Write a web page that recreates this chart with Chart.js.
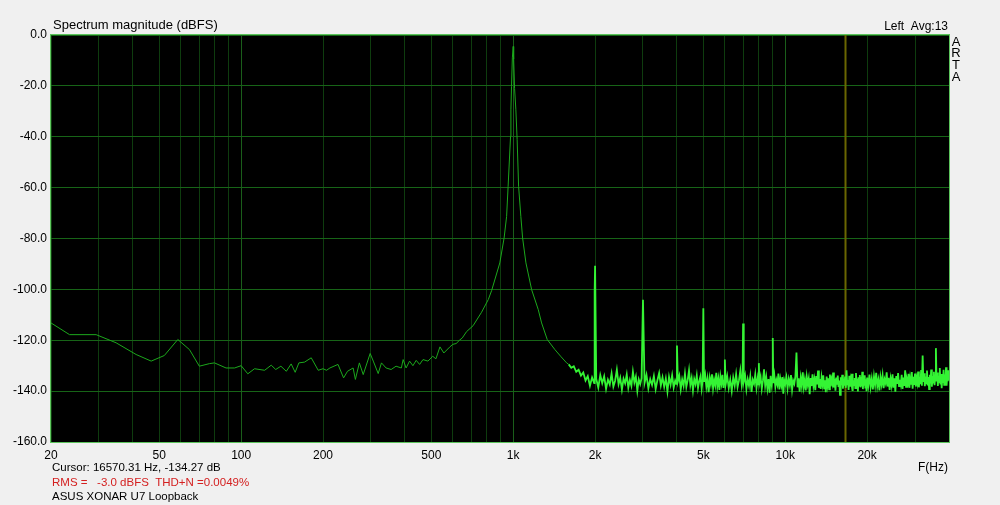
<!DOCTYPE html>
<html lang="en">
<head>
    <meta charset="UTF-8">
    <title>Spectrum magnitude</title>
    <script src="https://cdn.jsdelivr.net/npm/chart.js"></script>
    <style>
        body {
            margin: 0;
            background: #f0f0f0;
        }
        canvas {
            display: block;
        }
    </style>
</head>
<body>

    <canvas id="spectrum" width="1000" height="505"></canvas>

    <script>
        // Low part of the spectrum: hum, 1/f floor and the 1 kHz tone skirt
        const lowFreq = [20, 23.4, 29.3, 34.7, 41.1, 46.7, 52.2, 58.5, 64.6, 70.2,
            76.4, 79.8, 88, 94.6, 100, 105.8, 112, 122, 129, 134,
            140, 146.6, 152.7, 158, 163, 171, 181, 192, 200, 206,
            212, 227, 238, 246, 258, 263, 272, 281, 298, 306,
            319, 328, 341, 356, 371, 388, 394, 404, 416, 428,
            440, 453, 466, 486, 506, 520, 538, 556, 584, 600,
            617, 636, 650, 674, 712, 765, 810, 833, 893, 926,
            946, 958, 978, 981, 986, 993, 1000, 1004, 1012, 1023,
            1034, 1047, 1067, 1083, 1114, 1169, 1236, 1272, 1334, 1424,
            1500, 1572, 1600];
        const lowDb = [-113.2, -117.8, -117.8, -121.0, -125.6, -128.2, -126.0, -119.7, -123.7, -130.2,
            -129.2, -128.9, -130.9, -130.9, -130.0, -133.2, -131.2, -131.8, -129.8, -131.5,
            -130.2, -132.2, -129.3, -132.6, -128.9, -128.6, -126.9, -131.8, -131.2, -131.8,
            -130.9, -129.5, -134.8, -132.2, -130.9, -135.4, -128.9, -133.5, -125.2, -128.2,
            -133.1, -128.9, -130.9, -131.5, -130.2, -130.9, -127.6, -130.9, -128.2, -130.0,
            -127.9, -129.5, -127.6, -128.2, -126.3, -127.3, -122.6, -125.0, -122.7, -121.6,
            -121.3, -119.9, -119.1, -116.6, -114.3, -109.0, -104.0, -100.5, -89.6, -79.8,
            -71.3, -59.5, -39.8, -29.4, -20.2, -9.0, -4.5, -9.5, -21.0, -29.4,
            -41.1, -59.5, -71.3, -79.8, -89.6, -100.1, -107.9, -113.2, -119.7, -123.7,
            -126.5, -128.9, -129.5];

        // Noise floor with harmonics (2k, 3k, 4k ... 11k, 32k, 35.8k)
        const noiseFreq = [1600, 1635, 1670, 1705, 1740, 1775, 1810, 1845, 1880, 1915,
            1950, 1985, 1993, 2000, 2020, 2055, 2090, 2125, 2160, 2195,
            2230, 2265, 2300, 2335, 2370, 2405, 2440, 2475, 2510, 2545,
            2580, 2615, 2650, 2685, 2720, 2755, 2790, 2825, 2860, 2895,
            2930, 2965, 3000, 3040, 3090, 3140, 3190, 3240, 3290, 3340,
            3390, 3440, 3490, 3540, 3590, 3640, 3690, 3740, 3790, 3840,
            3890, 3940, 3975, 4000, 4030, 4080, 4130, 4180, 4230, 4280,
            4330, 4380, 4430, 4480, 4530, 4580, 4630, 4680, 4730, 4780,
            4830, 4880, 4930, 4970, 5000, 5030, 5080, 5130, 5180, 5230,
            5280, 5330, 5380, 5430, 5480, 5530, 5580, 5630, 5680, 5730,
            5780, 5830, 5880, 5930, 5970, 6000, 6040, 6120, 6200, 6280,
            6360, 6440, 6520, 6600, 6680, 6760, 6840, 6920, 6970, 7000,
            7040, 7120, 7200, 7280, 7360, 7440, 7520, 7600, 7680, 7760,
            7840, 7920, 7970, 8000, 8040, 8120, 8200, 8280, 8360, 8440,
            8520, 8600, 8680, 8760, 8840, 8920, 8970, 9000, 9040, 9120,
            9200, 9280, 9360, 9440, 9520, 9600, 9680, 9760, 9840, 9920,
            10000, 10100, 10200, 10300, 10400, 10500, 10600, 10700, 10800, 10900,
            11000, 11100, 11200, 11300, 11400, 11500, 11600, 11700, 11800, 11900,
            12000, 12100, 12200, 12300, 12400, 12500, 12600, 12700, 12800, 12900,
            13000, 13100, 13200, 13300, 13400, 13500, 13600, 13700, 13800, 13900,
            14000, 14100, 14200, 14300, 14400, 14500, 14600, 14700, 14800, 14900,
            15000, 15100, 15200, 15300, 15400, 15500, 15600, 15700, 15800, 15900,
            16000, 16100, 16200, 16300, 16400, 16500, 16600, 16700, 16800, 16900,
            17000, 17100, 17200, 17300, 17400, 17500, 17600, 17700, 17800, 17900,
            18000, 18100, 18200, 18300, 18400, 18500, 18600, 18700, 18800, 18900,
            19000, 19100, 19200, 19300, 19400, 19500, 19600, 19700, 19800, 19900,
            20000, 20200, 20400, 20600, 20800, 21000, 21200, 21400, 21600, 21800,
            22000, 22200, 22400, 22600, 22800, 23000, 23200, 23400, 23600, 23800,
            24000, 24200, 24400, 24600, 24800, 25000, 25200, 25400, 25600, 25800,
            26000, 26200, 26400, 26600, 26800, 27000, 27200, 27400, 27600, 27800,
            28000, 28200, 28400, 28600, 28800, 29000, 29200, 29400, 29600, 29800,
            30000, 30200, 30400, 30600, 30800, 31000, 31200, 31400, 31600, 31800,
            32000, 32200, 32400, 32600, 32800, 33000, 33200, 33400, 33600, 33800,
            34000, 34200, 34400, 34600, 34800, 35000, 35200, 35400, 35600, 35800,
            36000, 36200, 36400, 36600, 36800, 37000, 37200, 37400, 37600, 37800,
            38000, 38200, 38400, 38600, 38800, 39000, 39200, 39400, 39600, 39800,
            40000];
        const noiseDb = [-129.5, -130.8, -130.2, -132.4, -131.6, -133.9, -132.7, -135.8, -134.1, -137.9,
            -134.6, -136.8, -101.0, -90.7, -135.2, -138.6, -133.7, -136.9, -134.2, -139.1,
            -135.5, -137.4, -133.1, -138.2, -135.9, -131.6, -137.3, -134.8, -139.4, -135.1,
            -136.9, -133.5, -138.7, -135.6, -137.9, -132.4, -136.6, -134.3, -139.8, -135.4,
            -137.2, -134.9, -104.1, -136.8, -133.6, -138.9, -135.3, -137.6, -134.1, -139.2,
            -135.7, -132.9, -137.8, -134.6, -138.3, -135.0, -140.1, -134.4, -137.5, -133.8,
            -138.6, -135.9, -137.1, -122.1, -136.2, -134.0, -139.3, -135.4, -137.9, -133.2,
            -138.4, -135.7, -131.8, -137.6, -134.9, -139.7, -135.3, -137.2, -133.9, -138.8,
            -136.1, -134.2, -139.0, -135.8, -107.4, -136.4, -133.7, -138.2, -135.1, -140.4,
            -134.8, -137.3, -133.4, -138.9, -135.6, -137.7, -132.8, -138.1, -135.2, -139.5,
            -134.3, -137.0, -133.6, -138.7, -135.9, -127.6, -137.4, -134.1, -138.8, -135.5,
            -139.9, -134.7, -137.8, -133.3, -138.4, -135.8, -131.9, -137.6, -135.2, -113.4,
            -136.3, -133.9, -139.2, -135.4, -137.9, -134.2, -140.3, -135.6, -137.1, -133.5,
            -138.6, -135.0, -137.3, -129.0, -136.7, -134.4, -139.1, -135.9, -131.4, -137.8,
            -134.6, -138.9, -135.3, -140.6, -134.0, -137.5, -135.1, -119.1, -136.9, -133.8,
            -138.3, -135.7, -137.4, -133.1, -139.3, -135.4, -137.7, -134.5, -141.0, -135.8,
            -137.2, -134.6, -138.9, -135.3, -137.6, -133.7, -139.4, -135.9, -137.1, -134.2,
            -124.8, -138.5, -135.0, -140.2, -134.8, -137.9, -132.6, -138.3, -135.6, -139.7,
            -134.4, -137.3, -135.1, -141.2, -134.9, -138.0, -133.4, -137.8, -135.5, -139.6,
            -134.1, -137.4, -131.9, -138.7, -135.3, -139.1, -134.6, -137.2, -133.8, -138.9,
            -135.7, -140.4, -134.3, -137.6, -135.0, -139.3, -133.5, -138.1, -135.4, -136.9,
            -132.7, -138.6, -135.2, -139.8, -134.7, -137.5, -133.9, -138.4, -135.8, -141.5,
            -134.5, -137.7, -133.6, -139.0, -135.1, -137.9, -134.3, -138.7, -131.8, -137.3,
            -135.6, -139.5, -134.0, -138.2, -135.4, -137.0, -133.2, -139.9, -135.7, -137.6,
            -134.8, -138.8, -132.9, -137.4, -135.2, -140.1, -134.6, -137.8, -133.7, -138.5,
            -135.9, -136.8, -132.4, -139.2, -134.9, -137.5, -133.8, -138.6, -135.3, -140.0,
            -134.7, -137.9, -133.5, -138.4, -135.1, -139.3, -134.2, -137.6, -132.8, -138.1,
            -135.6, -139.7, -134.5, -137.3, -133.9, -138.8, -135.4, -136.9, -132.6, -138.2,
            -134.8, -139.5, -135.2, -137.7, -133.4, -138.6, -135.0, -140.2, -134.1, -137.2,
            -132.9, -138.0, -135.5, -137.4, -133.6, -139.1, -134.7, -137.9, -131.8, -138.3,
            -135.3, -136.8, -133.2, -138.7, -134.9, -137.1, -132.5, -139.0, -134.4, -137.6,
            -133.1, -138.2, -135.0, -136.7, -132.3, -138.5, -134.6, -137.3, -131.7, -137.9,
            -126.0, -136.4, -133.0, -138.1, -134.3, -136.9, -131.9, -137.8, -134.5, -139.2,
            -133.6, -137.0, -131.5, -138.3, -134.1, -136.6, -132.4, -137.7, -133.8, -123.1,
            -136.2, -132.7, -138.0, -134.0, -136.5, -130.9, -137.4, -133.3, -138.9, -134.2,
            -136.8, -131.6, -137.5, -133.5, -136.3, -130.6, -137.9, -133.9, -136.1, -131.8,
            -135.7];

        // Axis grid and labels
        const gridFreqs = [20, 30, 40, 50, 60, 70, 80, 90, 100, 200, 300, 400, 500, 600, 700, 800, 900,
            1000, 2000, 3000, 4000, 5000, 6000, 7000, 8000, 9000, 10000, 20000, 30000, 40000];
        const labelFreqs = [20, 50, 100, 200, 500, 1000, 2000, 5000, 10000, 20000];
        const labelNames = ['20', '50', '100', '200', '500', '1k', '2k', '5k', '10k', '20k'];
        const decades = [100, 1000, 10000];
        const cursorFreq = 16570.31;

        const FONT = 'Liberation Sans, Arial, sans-serif';

        const toPoints = (fs, ds) => fs.map((f, i) => ({ x: f, y: ds[i] }));

        // Background, plot frame, cursor and the ARTA annotations
        const artaPlugin = {
            id: 'arta',
            beforeDraw(chart) {
                const c = chart.ctx, a = chart.chartArea;
                c.save();
                c.fillStyle = '#f0f0f0';
                c.fillRect(0, 0, chart.width, chart.height);
                c.fillStyle = '#000000';
                c.fillRect(a.left, a.top, a.right - a.left, a.bottom - a.top);
                c.restore();
            },
            beforeDatasetsDraw(chart) {
                const c = chart.ctx, a = chart.chartArea;
                const x = Math.round(chart.scales.x.getPixelForValue(cursorFreq)) + 0.5;
                c.save();
                c.strokeStyle = '#6a6600';
                c.lineWidth = 2;
                c.beginPath();
                c.moveTo(x, a.top);
                c.lineTo(x, a.bottom);
                c.stroke();
                c.restore();
            },
            afterDraw(chart) {
                const c = chart.ctx, a = chart.chartArea;
                c.save();
                c.strokeStyle = '#5cc45c';
                c.lineWidth = 1;
                c.strokeRect(a.left - 0.5, a.top - 0.5, a.right - a.left + 1, a.bottom - a.top + 1);

                c.fillStyle = '#000000';
                c.textBaseline = 'alphabetic';
                c.font = '13px ' + FONT;
                c.textAlign = 'left';
                c.fillText('Spectrum magnitude (dBFS)', 53, 29);
                c.font = '12px ' + FONT;
                c.textAlign = 'right';
                c.fillText('Left  Avg:13', 948, 30);

                c.textAlign = 'center';
                c.textBaseline = 'middle';
                c.font = '13px ' + FONT;
                ['A', 'R', 'T', 'A'].forEach((ch, i) => c.fillText(ch, 956, 42 + i * 11.7));

                c.font = '12px ' + FONT;
                c.textAlign = 'right';
                c.fillText('F(Hz)', 948, 468);

                c.textAlign = 'left';
                c.font = '11.5px ' + FONT;
                c.fillText('Cursor: 16570.31 Hz, -134.27 dB', 52, 468);
                c.fillStyle = '#d42020';
                c.fillText('RMS =   -3.0 dBFS  THD+N =0.0049%', 52, 483);
                c.fillStyle = '#000000';
                c.fillText('ASUS XONAR U7 Loopback', 52, 497);
                c.restore();
            }
        };

        const ctx = document.getElementById('spectrum').getContext('2d');
        const chart = new Chart(ctx, {
            type: 'line',
            data: {
                datasets: [
                    {
                        data: toPoints(lowFreq, lowDb),
                        borderColor: '#1ca81c',
                        borderWidth: 1,
                        pointRadius: 0,
                        tension: 0
                    },
                    {
                        data: toPoints(noiseFreq, noiseDb),
                        borderColor: '#34f434',
                        borderWidth: 1.8,
                        pointRadius: 0,
                        tension: 0
                    }
                ]
            },
            options: {
                responsive: false,
                animation: false,
                devicePixelRatio: 1,
                layout: { padding: { left: 0, top: 35, right: 51, bottom: 0 } },
                plugins: {
                    legend: { display: false },
                    tooltip: { enabled: false }
                },
                scales: {
                    x: {
                        type: 'logarithmic',
                        min: 20,
                        max: 40000,
                        afterBuildTicks: (s) => { s.ticks = gridFreqs.map(v => ({ value: v })); },
                        afterFit: (s) => { s.height = 63; },
                        border: { display: false },
                        grid: {
                            drawTicks: false,
                            color: (c) => decades.includes(c.tick && c.tick.value) ? '#1a5e1a' : '#0e3c0e'
                        },
                        ticks: {
                            autoSkip: false,
                            maxRotation: 0,
                            padding: 6,
                            color: '#000000',
                            font: { family: FONT, size: 12 },
                            callback: (v) => {
                                const i = labelFreqs.indexOf(v);
                                return i >= 0 ? labelNames[i] : '';
                            }
                        }
                    },
                    y: {
                        min: -160,
                        max: 0,
                        afterFit: (s) => { s.width = 51; },
                        border: { display: false },
                        grid: { drawTicks: false, color: '#176417' },
                        ticks: {
                            stepSize: 20,
                            padding: 4,
                            color: '#000000',
                            font: { family: FONT, size: 12 },
                            callback: (v) => v.toFixed(1)
                        }
                    }
                }
            },
            plugins: [artaPlugin]
        });
    </script>
</body>
</html>
